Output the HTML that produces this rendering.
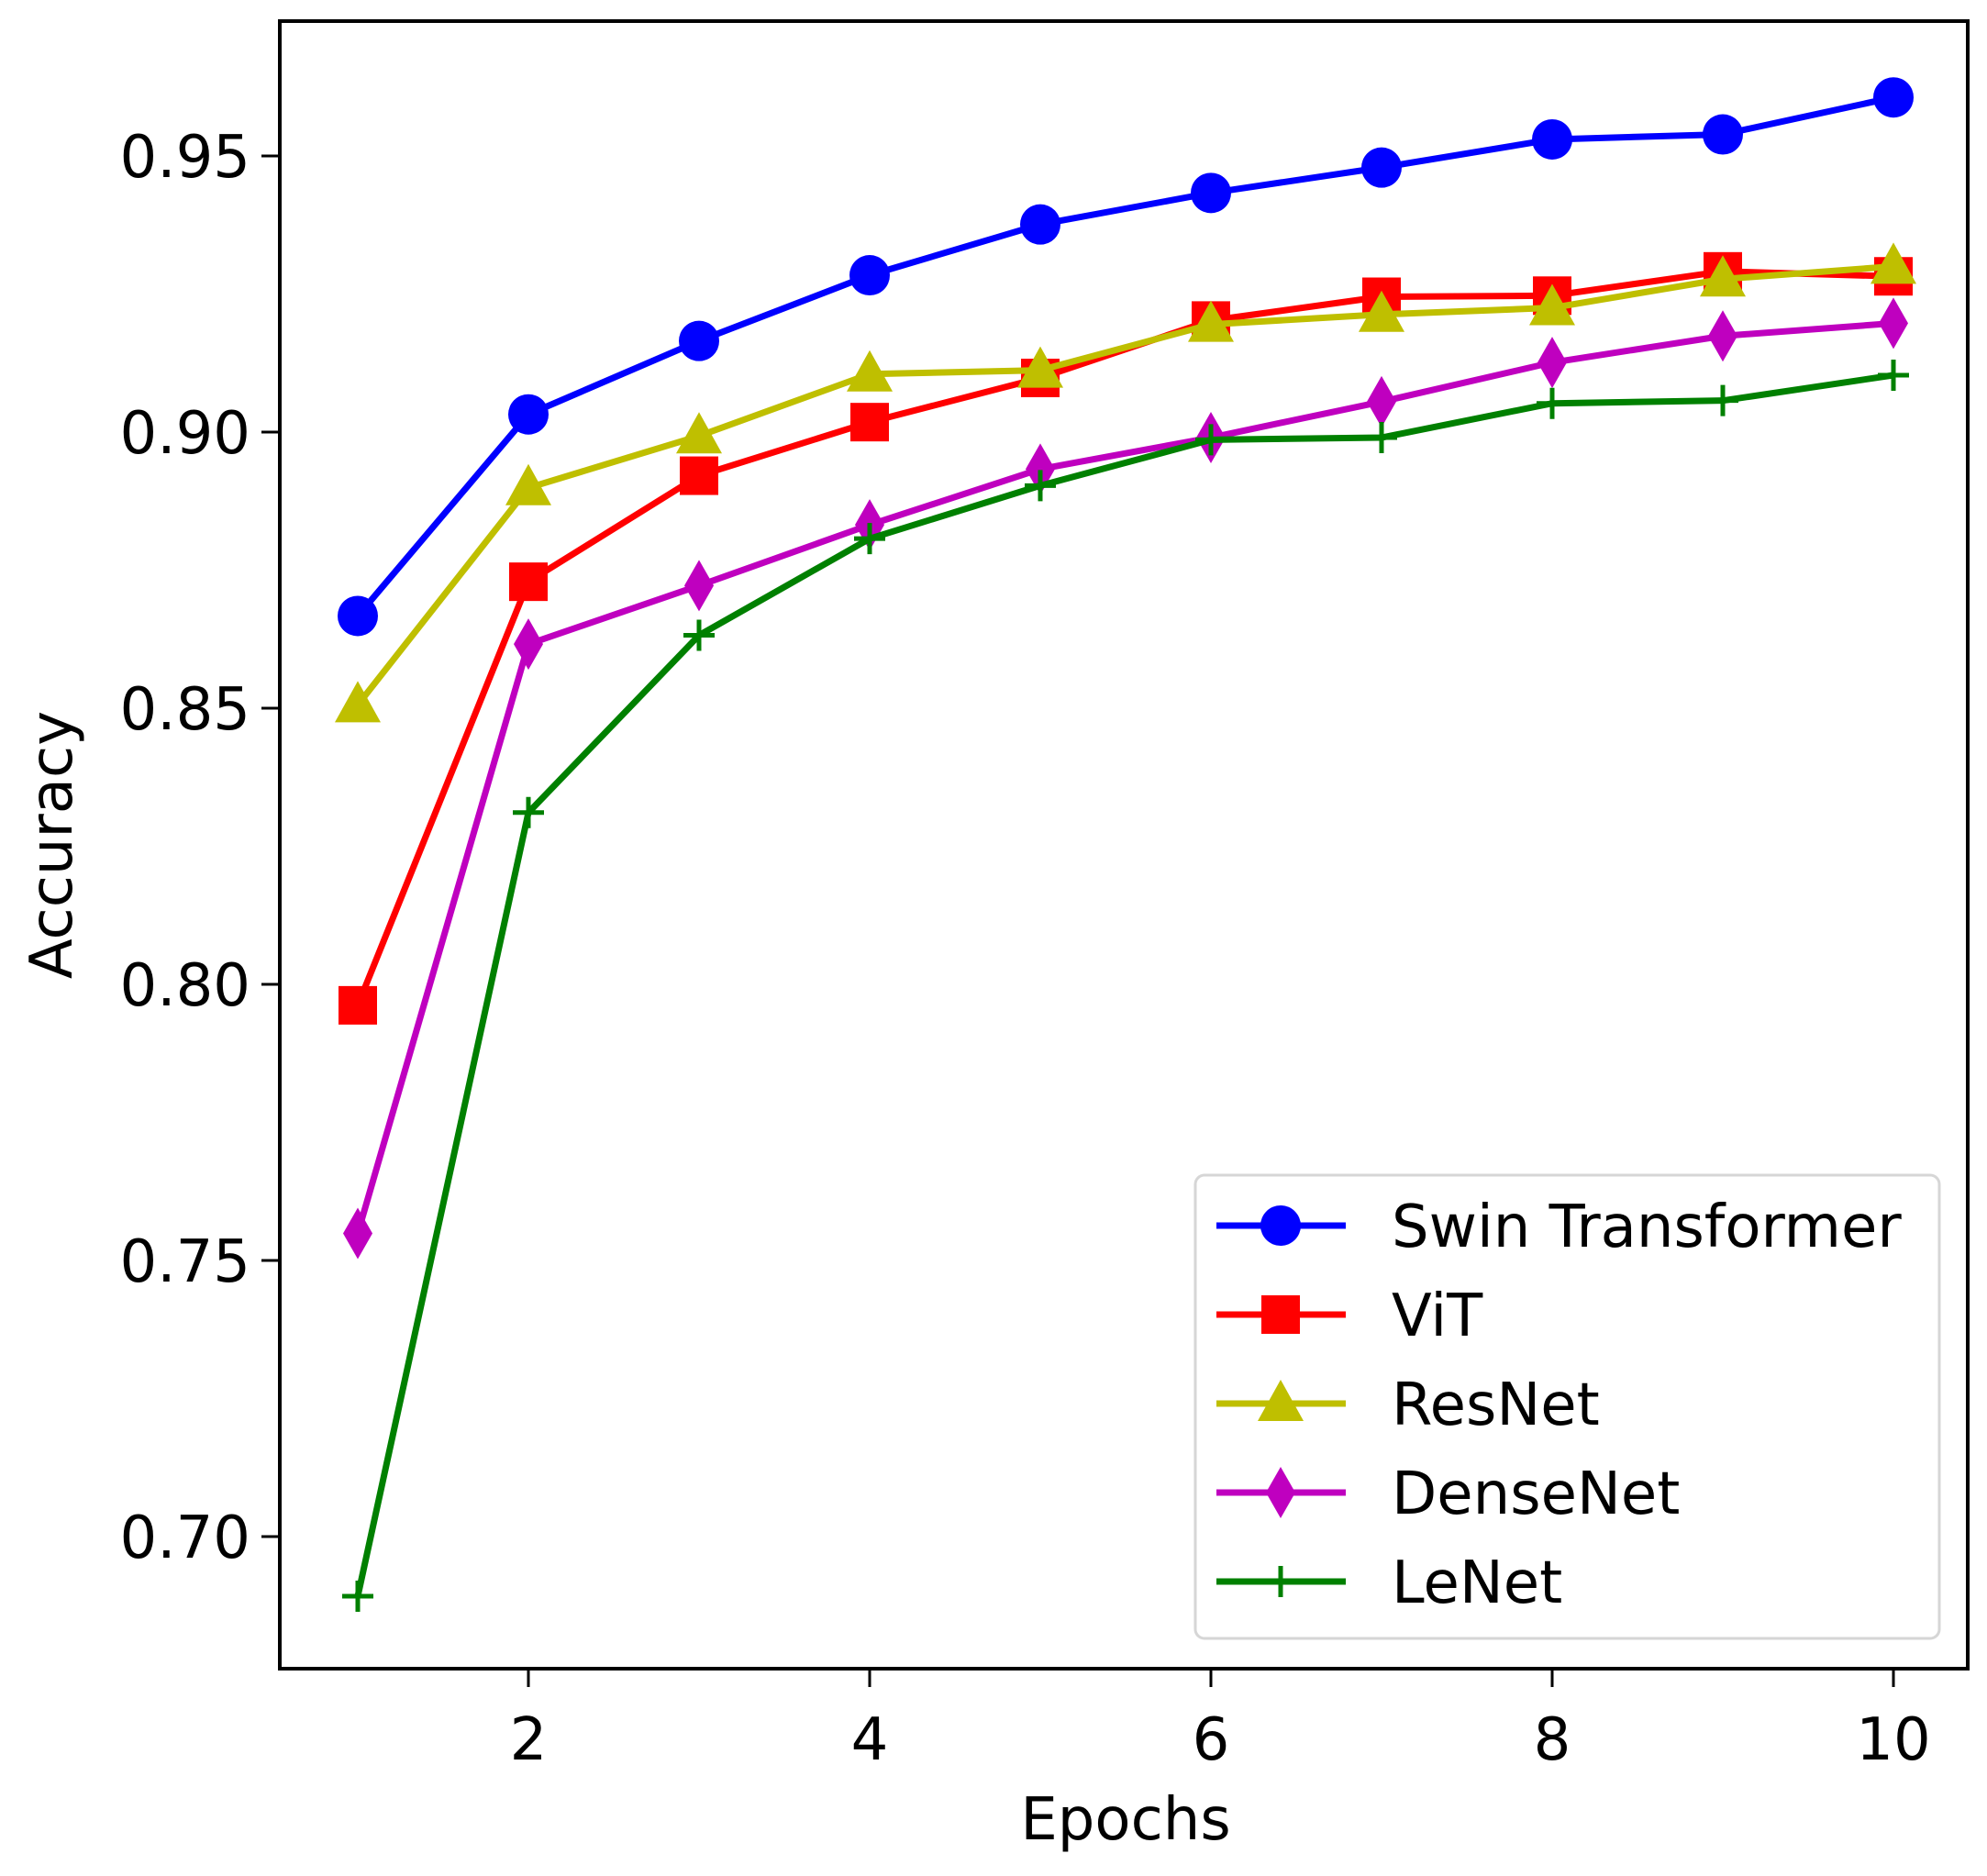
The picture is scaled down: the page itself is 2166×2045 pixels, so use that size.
<!DOCTYPE html>
<html><head><meta charset="utf-8"><style>
html,body{margin:0;padding:0;background:#fff}
svg{display:block;font-family:"DejaVu Sans","Liberation Sans",sans-serif}
</style></head><body>
<svg id="chart" width="2166" height="2045" viewBox="0 0 2166 2045" xmlns="http://www.w3.org/2000/svg">
<rect x="0" y="0" width="2166" height="2045" fill="#fff"/>
<g id="plot"></g>
<g id="axes"></g>
<g id="legend"></g>
</svg>
<script>
const epochs = [1,2,3,4,5,6,7,8,9,10];
const swin = [0.8667,0.9032,0.9165,0.9284,0.9376,0.9433,0.9479,0.9530,0.9539,0.9606];
const vit = [0.7962,0.8729,0.8921,0.9018,0.9098,0.9202,0.9245,0.9247,0.9291,0.9282];
const resnet = [0.8506,0.8899,0.8993,0.9105,0.9112,0.9195,0.9213,0.9225,0.9277,0.9300];
const densenet = [0.7549,0.8616,0.8722,0.8832,0.8933,0.8990,0.9055,0.9126,0.9174,0.9197];
const lenet = [0.6892,0.8311,0.8632,0.8807,0.8903,0.8986,0.8990,0.9052,0.9057,0.9103];
const xTicks = [2,4,6,8,10];
const yTicks = [0.70,0.75,0.80,0.85,0.90,0.95];
const seriesNames = ["Swin Transformer","ViT","ResNet","DenseNet","LeNet"];

const NS="http://www.w3.org/2000/svg";
const L=305,R=2145,T=23,B=1819;
function xs(v){return 390+(v-1)*(2064-390)/9;}
function ys(v){return 170+(0.95-v)/0.05*301;}
function mk(tag,attrs,parent){const e=document.createElementNS(NS,tag);for(const k in attrs)e.setAttribute(k,attrs[k]);parent.appendChild(e);return e;}
const plot=document.getElementById('plot'),axes=document.getElementById('axes'),leg=document.getElementById('legend');

function marker(type,color,x,y,g){
  let m;
  if(type==='circle'){m=mk('circle',{cx:x,cy:y,r:22,fill:color},g);}
  else if(type==='square'){m=mk('rect',{x:x-21,y:y-21,width:42,height:42,fill:color},g);}
  else if(type==='triangle'){m=mk('polygon',{points:`${x},${y-26} ${x+25},${y+19} ${x-25},${y+19}`,fill:color},g);}
  else if(type==='diamond'){m=mk('polygon',{points:`${x},${y-28} ${x+16},${y} ${x},${y+28} ${x-16},${y}`,fill:color},g);}
  else {m=mk('path',{d:`M${x-17},${y}H${x+17}M${x},${y-17}V${y+17}`,stroke:color,'stroke-width':5,fill:'none'},g);}
  return m;
}
const series=[[swin,'#0000ff','circle'],[vit,'#ff0000','square'],[resnet,'#bfbf00','triangle'],[densenet,'#bf00bf','diamond'],[lenet,'#008000','plus']];
const keys=['swin','vit','resnet','densenet','lenet'];
series.forEach((s,i)=>{
  const g=mk('g',{},plot);
  
  
  const pts=epochs.map((e,j)=>xs(e)+','+ys(s[0][j])).join(' ');
  const pl=mk('polyline',{points:pts,fill:'none',stroke:s[1],'stroke-width':7,'stroke-linejoin':'round'},g);
  
  
  epochs.forEach((e,j)=>{
    const m=marker(s[2],s[1],xs(e),ys(s[0][j]),g);
    
    
  });
});
// frame
const fr=mk('rect',{x:L,y:T,width:R-L,height:B-T,fill:'none',stroke:'#000','stroke-width':4},axes);


xTicks.forEach(t=>{
  const x=xs(t);
  const tk=mk('line',{x1:x,x2:x,y1:B,y2:B+20,stroke:'#000','stroke-width':3},axes);
  
  
  const tx=mk('text',{x:x,y:1918,'font-size':64,'text-anchor':'middle',fill:'#000'},axes);
  tx.textContent=String(t);
  
  
});
yTicks.forEach(t=>{
  const y=ys(t);
  const tk=mk('line',{x1:L-20,x2:L,y1:y,y2:y,stroke:'#000','stroke-width':3},axes);
  
  
  const tx=mk('text',{x:L-32,y:y+23,'font-size':64,'text-anchor':'end',fill:'#000'},axes);
  tx.textContent=t.toFixed(2);
  
  
});
const xl=mk('text',{x:1227,y:2005,'font-size':64,'text-anchor':'middle',fill:'#000'},axes);
xl.textContent='Epochs';


const yl=mk('text',{x:0,y:0,'font-size':64,'text-anchor':'middle',fill:'#000',transform:'translate(78,921) rotate(-90)'},axes);
yl.textContent='Accuracy';


// legend
const lb=mk('rect',{x:1303,y:1281,width:811,height:505,rx:10,fill:'#fff',stroke:'#d6d6d6','stroke-width':3,'fill-opacity':0.9},leg);


series.forEach((s,i)=>{
  const y=1336+i*97;
  const g=mk('g',{},leg);
  
  
  mk('line',{x1:1326,x2:1467,y1:y,y2:y,stroke:s[1],'stroke-width':7},g);
  marker(s[2],s[1],1396,y,g);
  const t=mk('text',{x:1517,y:y+23,'font-size':64,fill:'#000'},g);
  t.textContent=seriesNames[i];
});
</script>
</body></html>
